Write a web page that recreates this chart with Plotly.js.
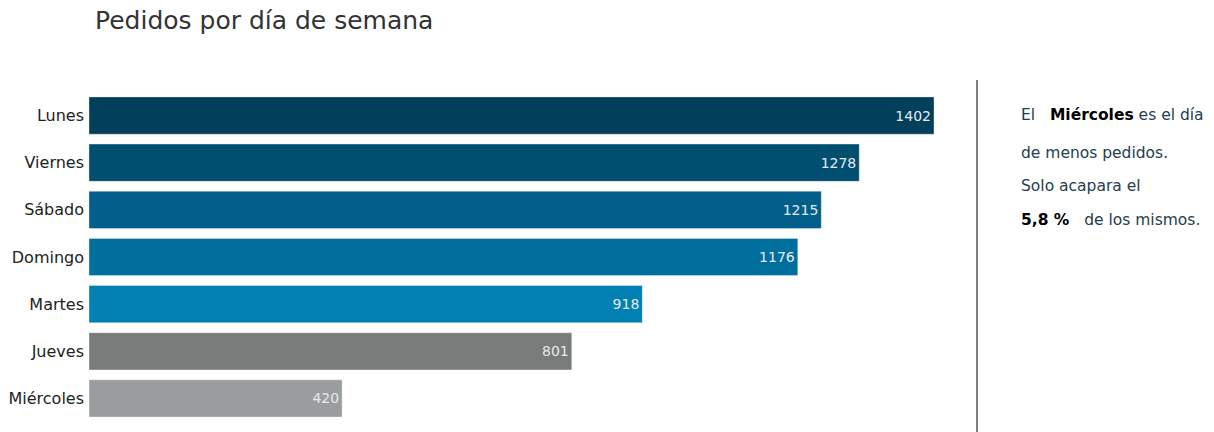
<!DOCTYPE html>
<html>
<head>
<meta charset="utf-8">
<script src="https://cdn.plot.ly/plotly-3.0.1.min.js"></script>
<style>html,body{margin:0;padding:0;background:#fff;}#chart{width:1214px;height:432px;}</style>
</head>
<body>
<div id="chart"></div>
<script>
const dias = ["Lunes", "Viernes", "Sábado", "Domingo", "Martes", "Jueves", "Miércoles"];
const pedidos = [1402, 1278, 1215, 1176, 918, 801, 420];
const colores = ["#023f5b", "#014f70", "#015f8a", "#016f9e", "#0180b4", "#797a7a", "#9a9d9e"];
const notas = [
  "El   <b style='color:#000'>Miércoles</b> es el día",
  "de menos pedidos.",
  "Solo acapara el",
  "<b style='color:#000'>5,8 %</b>   de los mismos."
];

const L = 89, R = 934, T = 92, B = 422, W = 1214, H = 432;
const px2x = p => (p - L) / (R - L);
const px2y = p => (B - p) / (B - T);
const notaY = [115, 153, 186, 220];

const trace = {
  type: "bar",
  orientation: "h",
  y: dias,
  x: pedidos,
  marker: {color: colores, line: {color: "rgba(255,255,255,0.35)", width: 1}},
  text: pedidos.map(String),
  textposition: "inside",
  insidetextanchor: "end",
  textfont: {family: "DejaVu Sans", size: 14, color: "#e4ebee"},
  hoverinfo: "x+y",
  width: 0.79
};

const layout = {
  width: W, height: H,
  margin: {l: L, r: W - R, t: T, b: H - B, pad: 0},
  paper_bgcolor: "#fff",
  plot_bgcolor: "#fff",
  showlegend: false,
  title: {
    text: "Pedidos por día de semana",
    font: {family: "DejaVu Sans", size: 25, color: "#333"},
    x: 95 / W, xanchor: "left", xref: "container",
    y: 1 - 20 / H, yanchor: "middle", yref: "container"
  },
  xaxis: {range: [0, 1402], showgrid: false, zeroline: false, showticklabels: false, showline: false, ticks: ""},
  yaxis: {
    autorange: "reversed", showgrid: false, zeroline: false, showline: false, ticks: "",
    tickfont: {family: "DejaVu Sans", size: 16, color: "#222"},
    ticklabelstandoff: 4
  },
  shapes: [{
    type: "line", xref: "paper", yref: "paper",
    x0: px2x(977), x1: px2x(977), y0: px2y(432), y1: px2y(80),
    line: {color: "#555", width: 1.5}
  }],
  annotations: notas.map((t, i) => ({
    text: t, xref: "paper", yref: "paper",
    x: px2x(1019), y: px2y(notaY[i]), xanchor: "left", yanchor: "middle",
    showarrow: false,
    font: {family: "DejaVu Sans", size: 15.5, color: "#23404f"}
  }))
};

Plotly.newPlot("chart", [trace], layout, {displayModeBar: false, staticPlot: true});
</script>
</body>
</html>
